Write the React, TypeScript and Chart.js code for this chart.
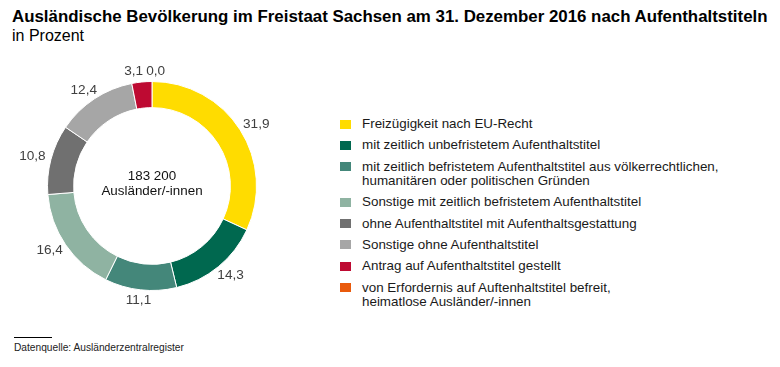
import React, { useEffect, useRef } from "react";
import { Chart, registerables } from "chart.js";

Chart.register(...registerables);

const title = "Ausländische Bevölkerung im Freistaat Sachsen am 31. Dezember 2016 nach Aufenthaltstiteln";
const subtitle = "in Prozent";
const centerLines = ["183 200", "Ausländer/-innen"];
const source = "Datenquelle: Ausländerzentralregister";

const categories: string[][] = [
  ["Freizügigkeit nach EU-Recht"],
  ["mit zeitlich unbefristetem Aufenthaltstitel"],
  ["mit zeitlich befristetem Aufenthaltstitel aus völkerrechtlichen,", "humanitären oder politischen Gründen"],
  ["Sonstige mit zeitlich befristetem Aufenthaltstitel"],
  ["ohne Aufenthaltstitel mit Aufenthaltsgestattung"],
  ["Sonstige ohne Aufenthaltstitel"],
  ["Antrag auf Aufenthaltstitel gestellt"],
  ["von Erfordernis auf Auftenhaltstitel befreit,", "heimatlose Ausländer/-innen"],
];
const values = [31.9, 14.3, 11.1, 16.4, 10.8, 12.4, 3.1, 0.0];
const colors = ["#FFDC00", "#00684F", "#44877A", "#8FB3A2", "#707070", "#A6A6A6", "#BE0A32", "#E95A0C"];

const FONT = "'Liberation Sans', Arial, sans-serif";
const CX = 151.5;
const CY = 186;
const BOX = 300;
const TITLE_WIDTH = 755;

const fmt = (v: number) => v.toFixed(1).replace(".", ",");

const labelPlugin = {
  id: "outLabels",
  afterDatasetsDraw(chart: any) {
    const ctx = chart.ctx;
    const meta = chart.getDatasetMeta(0);
    ctx.save();
    ctx.font = `13.6px ${FONT}`;
    ctx.fillStyle = "#404040";
    ctx.textAlign = "center";
    ctx.textBaseline = "middle";
    const boxes: any[] = [];
    meta.data.forEach((arc: any, i: number) => {
      const p = arc.getProps(["x", "y", "startAngle", "endAngle", "outerRadius"], true);
      const mid = (p.startAngle + p.endAngle) / 2;
      const text = fmt(values[i]);
      const w = ctx.measureText(text).width;
      const h = 13;
      const r = p.outerRadius + 3;
      const ax = p.x + Math.cos(mid) * r;
      const ay = p.y + Math.sin(mid) * r;
      const x = ax + Math.cos(mid) * (w / 2 + 3);
      const y = ay + Math.sin(mid) * (h / 2 + 1);
      boxes.push({ x, y, w, h, text });
    });
    for (let i = 0; i < boxes.length; i++) {
      for (let j = i + 1; j < boxes.length; j++) {
        const a = boxes[i];
        const b = boxes[j];
        const ox = (a.w + b.w) / 2 + 3 - Math.abs(a.x - b.x);
        const oy = (a.h + b.h) / 2 - Math.abs(a.y - b.y);
        if (ox > 0 && oy > 0) {
          const dir = a.x <= b.x ? 1 : -1;
          a.x -= dir * ox * 0.65;
          b.x += dir * ox * 0.35;
        }
      }
    }
    boxes.forEach((b) => ctx.fillText(b.text, b.x, b.y));
    ctx.fillStyle = "#111";
    ctx.font = `13.4px ${FONT}`;
    const c = meta.data[0];
    ctx.fillText(centerLines[0], c.x, c.y - 9.5);
    ctx.fillText(centerLines[1], c.x, c.y + 5);
    ctx.restore();
  },
};

export default function App() {
  const ref = useRef<HTMLCanvasElement | null>(null);
  const titleRef = useRef<HTMLDivElement | null>(null);
  useEffect(() => {
    document.body.style.margin = "0";
    const t = titleRef.current;
    if (t) {
      const w = t.getBoundingClientRect().width;
      if (w > 0) t.style.fontSize = `${(16.8 * TITLE_WIDTH) / w}px`;
    }
    const chart = new Chart(ref.current as HTMLCanvasElement, {
      type: "doughnut",
      data: {
        labels: categories.map((c) => c.join(" ")),
        datasets: [
          {
            data: values,
            backgroundColor: colors,
            borderColor: "#ffffff",
            borderWidth: 1,
          },
        ],
      },
      options: {
        animation: false,
        responsive: false,
        cutout: "75%",
        layout: { padding: 45 },
        plugins: { legend: { display: false }, tooltip: { enabled: false } },
      },
      plugins: [labelPlugin],
    });
    return () => chart.destroy();
  }, []);

  return (
    <div style={{ position: "relative", width: 780, height: 367, background: "#fff", fontFamily: FONT, overflow: "hidden" }}>
      <div
        ref={titleRef}
        style={{
          position: "absolute",
          left: 12,
          top: 7,
          fontWeight: "bold",
          fontSize: 16.8,
          lineHeight: "19px",
          whiteSpace: "nowrap",
          color: "#000",
        }}
      >
        {title}
      </div>
      <div
        style={{
          position: "absolute",
          left: 12,
          top: 27,
          fontSize: 16,
          lineHeight: "18px",
          whiteSpace: "nowrap",
          color: "#000",
        }}
      >
        {subtitle}
      </div>
      <canvas
        ref={ref}
        width={BOX}
        height={BOX}
        style={{ position: "absolute", left: CX - BOX / 2, top: CY - BOX / 2, width: BOX, height: BOX }}
      />
      <div style={{ position: "absolute", left: 340, top: 117, fontSize: 13.4, color: "#1a1a1a" }}>
        {categories.map((lines, i) => (
          <div key={i} style={{ display: "flex", alignItems: "flex-start", marginBottom: 6.8 }}>
            <div style={{ width: 10.5, height: 9, background: colors[i], marginTop: 2.5, marginRight: 11.5, flex: "none" }} />
            <div style={{ lineHeight: "14.5px", whiteSpace: "nowrap" }}>
              {lines.map((l, k) => (
                <div key={k}>{l}</div>
              ))}
            </div>
          </div>
        ))}
      </div>
      <div style={{ position: "absolute", left: 14, top: 337, width: 38, height: 1, background: "#000" }} />
      <div style={{ position: "absolute", left: 14, top: 342, fontSize: 10.2, color: "#222", whiteSpace: "nowrap" }}>{source}</div>
    </div>
  );
}
